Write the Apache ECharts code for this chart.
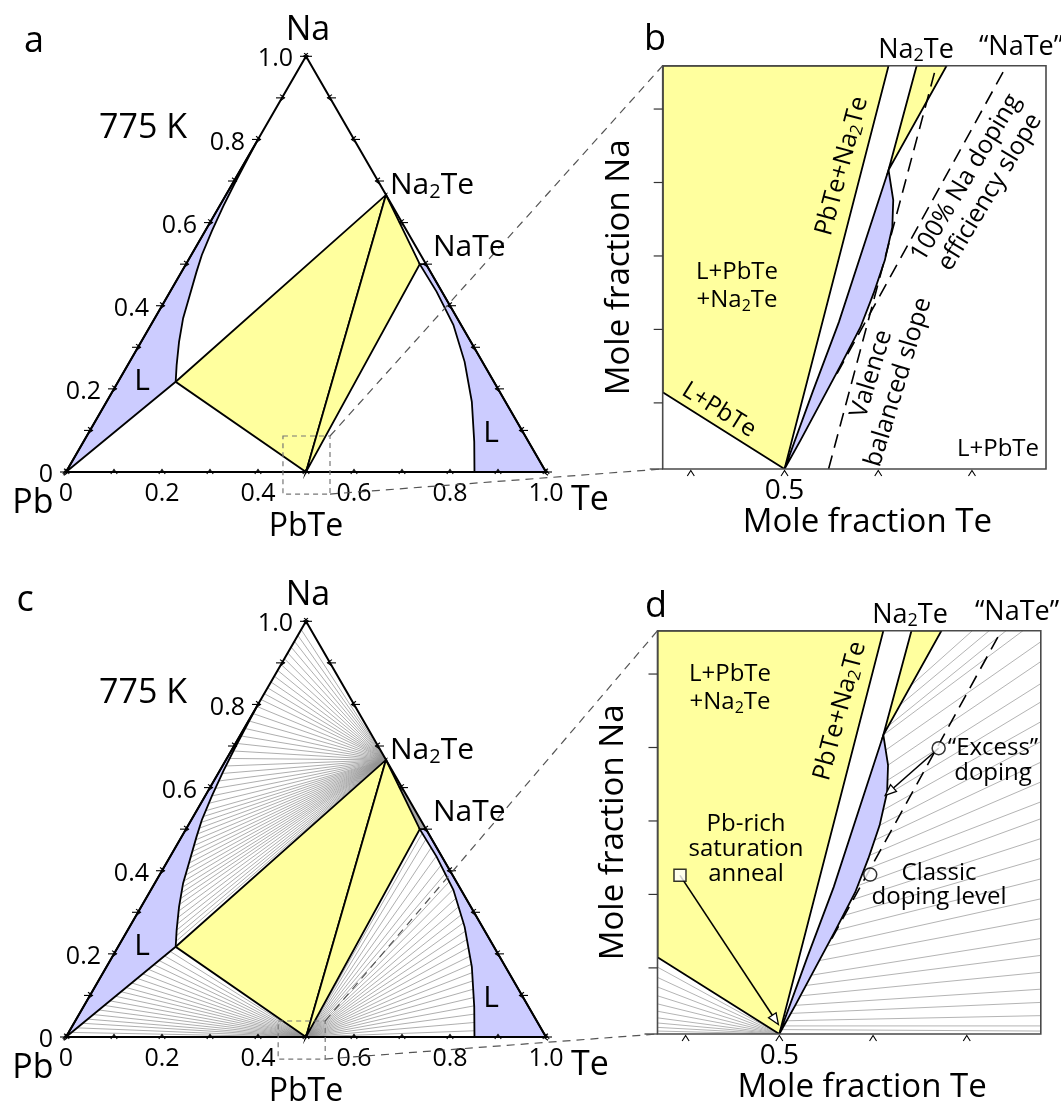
<!DOCTYPE html>
<html>
<head>
<meta charset="utf-8">
<script src="https://cdn.jsdelivr.net/npm/echarts@6/dist/echarts.min.js"></script>
<style>html,body{margin:0;padding:0;background:#fff}#chart{width:1061px;height:1108px}</style>
</head>
<body>
<div id="chart"></div>
<script>
// ================= DATA =================
// ---- ternary panels (a, c): compositions as [x_Te, x_Na] ----
const ternTickValues = [0, 0.1, 0.2, 0.3, 0.4, 0.5, 0.6, 0.7, 0.8, 0.9, 1.0];
const ternLabelValues = [0, 0.2, 0.4, 0.6, 0.8, 1.0];
const PbTe = [0.5, 0];
const Na2Te = [1 / 3, 2 / 3];
const NaTe = [0.5, 0.5];
const L1 = [0.120, 0.217];          // Pb-rich liquid corner
const L2 = [0.487, 0.500];          // Te-rich liquid corner
const leftLiquid = [[0.120, 0.217], [0.102, 0.257], [0.079, 0.313], [0.059, 0.370], [0.045, 0.426],
  [0.031, 0.482], [0.022, 0.522], [0.014, 0.580], [0.008, 0.640], [0.004, 0.700], [0.0015, 0.760], [0, 0.805]];
const rightLiquid = [[0.487, 0.500], [0.555, 0.434], [0.630, 0.354], [0.698, 0.265], [0.761, 0.169],
  [0.814, 0.073], [0.851, 0]];
const tieNa2TeEnds = [[0, 0.980], [0, 0.966], [0, 0.952], [0, 0.938], [0, 0.924], [0, 0.910], [0, 0.896],
  [0, 0.882], [0, 0.868], [0, 0.854], [0, 0.840], [0, 0.826], [0, 0.812],
  [0.0005, 0.795], [0.001, 0.778], [0.002, 0.760], [0.0028, 0.742], [0.0035, 0.724], [0.0045, 0.706],
  [0.0055, 0.688], [0.0068, 0.670], [0.008, 0.652], [0.0095, 0.634], [0.011, 0.616], [0.0125, 0.598],
  [0.014, 0.580], [0.016, 0.562], [0.018, 0.544], [0.020, 0.530], [0.023, 0.516], [0.026, 0.502],
  [0.029, 0.488], [0.033, 0.474], [0.036, 0.460], [0.040, 0.446], [0.043, 0.432], [0.047, 0.418],
  [0.051, 0.404], [0.055, 0.390], [0.059, 0.376], [0.064, 0.362], [0.068, 0.348], [0.073, 0.334],
  [0.078, 0.320], [0.084, 0.304], [0.090, 0.288], [0.096, 0.272], [0.102, 0.257], [0.108, 0.243], [0.114, 0.230]];
const tiePbTeLeftEnds = [[0.114, 0.206], [0.108, 0.195], [0.102, 0.184], [0.096, 0.174], [0.090, 0.163],
  [0.084, 0.152], [0.078, 0.141], [0.072, 0.130], [0.066, 0.119], [0.060, 0.109], [0.054, 0.098],
  [0.048, 0.087], [0.042, 0.076], [0.036, 0.065], [0.030, 0.054], [0.024, 0.043], [0.018, 0.033],
  [0.012, 0.022], [0.006, 0.011]];
const tiePbTeRightEnds = [[0.844, 0.015], [0.834, 0.035], [0.823, 0.055], [0.813, 0.075], [0.802, 0.095],
  [0.791, 0.115], [0.780, 0.135], [0.769, 0.155], [0.757, 0.175], [0.745, 0.195], [0.731, 0.215],
  [0.718, 0.235], [0.705, 0.255], [0.691, 0.275], [0.677, 0.295], [0.662, 0.315], [0.646, 0.335],
  [0.629, 0.355], [0.612, 0.375], [0.594, 0.395], [0.575, 0.415], [0.554, 0.435], [0.533, 0.455],
  [0.512, 0.475], [0.497, 0.490]];
// zoom boxes drawn in the triangles, [X0, Na0, X1, Na1] in the triangle's horizontal/Na frame
const zoomBoxA = [0.452, -0.053, 0.550, 0.0866];
const zoomBoxC = [0.442, -0.053, 0.540, 0.0385];

// ---- zoomed panels (b, d): [x_Te, x_Na] ----
const zoomRangeX = [0.4870, 0.5279];
const zoomRangeY = [0, 0.0549];
const zoomTickX = [0.49, 0.50, 0.51, 0.52];
const zoomLabelX = [0.5];
const zoomTickY = [0, 0.009, 0.019, 0.029, 0.039, 0.049];
const zLeftYellow = [[0.4870, 0.01045], [0.5, 0], [0.5111, 0.0549], [0.4870, 0.0549]];
const zRightYellow = [[0.5141, 0.0549], [0.5173, 0.0549], [0.5111, 0.0407]];
const zBlue = [[0.5111, 0.0407], [0.5116, 0.0366], [0.5115, 0.0329], [0.5107, 0.0284], [0.5095, 0.0239],
  [0.5081, 0.0193], [0.5059, 0.0139], [0.5038, 0.0089], [0.5017, 0.0039], [0.5, 0],
  [0.5030, 0.0105], [0.5058, 0.0200]];
const valenceLine = [[0.5047, 0], [0.5162, 0.0549]];
const dopingLine = [[0.5056, 0.0130], [0.5237, 0.0549]];
const dTieRight = [
  [0.5141, 0.0475, 0.5206, 0.0549], [0.5129, 0.0448, 0.5224, 0.0549], [0.5117, 0.0420, 0.5242, 0.0549],
  [0.5111, 0.0407, 0.5260, 0.0549], [0.5113, 0.0386, 0.5279, 0.0534], [0.5116, 0.0366, 0.5279, 0.0507],
  [0.5115, 0.0345, 0.5279, 0.0477], [0.5114, 0.0325, 0.5279, 0.0452], [0.5111, 0.0305, 0.5279, 0.0425],
  [0.5107, 0.0284, 0.5279, 0.0398], [0.5102, 0.0264, 0.5279, 0.0370], [0.5096, 0.0243, 0.5279, 0.0343],
  [0.5090, 0.0223, 0.5279, 0.0316], [0.5084, 0.0202, 0.5279, 0.0293], [0.5076, 0.0182, 0.5279, 0.0266],
  [0.5068, 0.0161, 0.5279, 0.0239], [0.5060, 0.0141, 0.5279, 0.0211], [0.5052, 0.0120, 0.5279, 0.0184],
  [0.5043, 0.0100, 0.5279, 0.0157], [0.5034, 0.0080, 0.5279, 0.0130], [0.5028, 0.0066, 0.5279, 0.0107],
  [0.5023, 0.0052, 0.5279, 0.0084], [0.5017, 0.0039, 0.5279, 0.0061], [0.5012, 0.0028, 0.5279, 0.0043],
  [0.5008, 0.0018, 0.5279, 0.0025], [0.5005, 0.0011, 0.5279, 0.0011], [0.5003, 0.0006, 0.5279, 0.0004]];
const dTieLeftNa = [0.0091, 0.0077, 0.0064, 0.0052, 0.0041, 0.0031, 0.0022, 0.0015, 0.0009, 0.0004];
const annealFrom = [0.4894, 0.0216];
const annealTo = [0.4999, 0.0013];
const excessPt = [0.5170, 0.0389];
const excessTo = [0.5113, 0.0325];
const classicPt = [0.5097, 0.0217];

// ================= STYLE =================
const FONT = '"Open Sans", "DejaVu Sans", sans-serif';
const INK = '#000';
const YEL = '#ffff9e';
const BLU = '#ccccff';
const TIE_C = '#939393';
const TIE_D = '#b4b4b4';

const tern = q => [q[0] + q[1] / 2, q[1]];
const same = q => q;

function polygonS(g, pts, conv, style, z, clip) {
  return { type: 'custom', xAxisIndex: g, yAxisIndex: g, z: z, silent: true, clip: !!clip,
    data: [conv(pts[0])],
    renderItem: (p, api) => ({ type: 'polygon', shape: { points: pts.map(q => api.coord(conv(q))) }, style: style }) };
}
function polylineS(g, pts, conv, style, z, clip) {
  return { type: 'custom', xAxisIndex: g, yAxisIndex: g, z: z, silent: true, clip: !!clip,
    data: [conv(pts[0])],
    renderItem: (p, api) => ({ type: 'polyline', shape: { points: pts.map(q => api.coord(conv(q))) },
      style: Object.assign({ fill: null }, style) }) };
}
function fanS(g, apex, ends, conv, style, z, clip) {
  return { type: 'custom', xAxisIndex: g, yAxisIndex: g, z: z, silent: true, clip: !!clip,
    data: ends.map(conv),
    renderItem: (p, api) => {
      const a = api.coord(conv(apex)), e = api.coord(conv(ends[p.dataIndex]));
      return { type: 'line', shape: { x1: a[0], y1: a[1], x2: e[0], y2: e[1] }, style: style };
    } };
}
function segS(g, segs, style, z, clip) {
  return { type: 'custom', xAxisIndex: g, yAxisIndex: g, z: z, silent: true, clip: !!clip,
    data: segs.map(s => [s[0], s[1]]),
    renderItem: (p, api) => {
      const s = segs[p.dataIndex];
      const a = api.coord([s[0], s[1]]), e = api.coord([s[2], s[3]]);
      return { type: 'line', shape: { x1: a[0], y1: a[1], x2: e[0], y2: e[1] }, style: style };
    } };
}
function boxS(g, box, style, z) {
  return { type: 'custom', xAxisIndex: g, yAxisIndex: g, z: z, silent: true, clip: false,
    data: [[box[0], box[1]]],
    renderItem: (p, api) => {
      const a = api.coord([box[0], box[3]]), b = api.coord([box[2], box[1]]);
      return { type: 'rect', shape: { x: a[0], y: a[1], width: b[0] - a[0], height: b[1] - a[1] },
        style: Object.assign({ fill: null }, style) };
    } };
}
function chevron(p, d, shaft) {
  const perp = [-d[1], d[0]];
  const tip = [p[0] + d[0] * 2.5, p[1] + d[1] * 2.5];
  const l1 = [p[0] - d[0] * 2 + perp[0] * 3.2, p[1] - d[1] * 2 + perp[1] * 3.2];
  const l2 = [p[0] - d[0] * 2 - perp[0] * 3.2, p[1] - d[1] * 2 - perp[1] * 3.2];
  const out = [{ type: 'polyline', shape: { points: [l1, tip, l2] }, style: { stroke: INK, lineWidth: 1.1, fill: null } }];
  if (shaft) out.push({ type: 'line', shape: { x1: p[0] - d[0] * 6, y1: p[1] - d[1] * 6, x2: tip[0], y2: tip[1] },
    style: { stroke: INK, lineWidth: 1.1 } });
  return out;
}
function ternTicksS(g) {
  return { type: 'custom', xAxisIndex: g, yAxisIndex: g, z: 8, silent: true, clip: false,
    data: ternTickValues.map(v => [v, 0]),
    renderItem: (p, api) => {
      const v = ternTickValues[p.dataIndex];
      const b = api.coord(tern([v, 0])), l = api.coord(tern([0, v])), r = api.coord(tern([1 - v, v]));
      return { type: 'group', children: [].concat(chevron(b, [0, -1], false), chevron(l, [1, 0], true), chevron(r, [-1, 0], true)) };
    } };
}
// Na-fraction labels along the Pb-Na edge, placed through the axes
function ternLabelsS(g) {
  return { type: 'custom', xAxisIndex: g, yAxisIndex: g, z: 9, silent: true, clip: false,
    data: ternLabelValues.map(n => tern([0, n])),
    renderItem: (p, api) => {
      const n = ternLabelValues[p.dataIndex];
      const c = api.coord(tern([0, n]));
      return { type: 'text', x: c[0] - 13, y: c[1] + 3,
        style: { text: n === 0 ? '0' : n.toFixed(1), fontSize: 25, fontFamily: FONT, fill: INK,
          align: 'right', verticalAlign: 'middle', textAlign: 'right', textVerticalAlign: 'middle' } };
    } };
}
function zoomFrameS(g) {
  return boxS(g, [zoomRangeX[0], zoomRangeY[0], zoomRangeX[1], zoomRangeY[1]], { stroke: '#4a4a4a', lineWidth: 1.6 }, 9);
}
function zoomXTicksS(g) {
  return { type: 'custom', xAxisIndex: g, yAxisIndex: g, z: 9, silent: true, clip: false,
    data: zoomTickX.map(v => [v, zoomRangeY[0]]),
    renderItem: (p, api) => {
      const c = api.coord([zoomTickX[p.dataIndex], zoomRangeY[0]]);
      return { type: 'polyline', shape: { points: [[c[0] - 3.5, c[1] + 7], [c[0], c[1] + 1.5], [c[0] + 3.5, c[1] + 7]] },
        style: { stroke: INK, lineWidth: 1.1, fill: null } };
    } };
}
function zoomYTicksS(g) {
  return { type: 'custom', xAxisIndex: g, yAxisIndex: g, z: 9, silent: true, clip: false,
    data: zoomTickY.map(v => [zoomRangeX[0], v]),
    renderItem: (p, api) => {
      const v = zoomTickY[p.dataIndex];
      const c = api.coord([zoomRangeX[0], v]);
      const len = v === 0 ? 13 : 9;
      return { type: 'line', shape: { x1: c[0] - len, y1: c[1], x2: c[0], y2: c[1] }, style: { stroke: '#333', lineWidth: 1.2 } };
    } };
}
function arrowsS(g, arrows, z) {
  return { type: 'custom', xAxisIndex: g, yAxisIndex: g, z: z, silent: true, clip: false,
    data: arrows.map(a => a[0]),
    renderItem: (p, api) => {
      const a = arrows[p.dataIndex];
      const p0 = api.coord(a[0]), p1 = api.coord(a[1]);
      const dx = p1[0] - p0[0], dy = p1[1] - p0[1], L = Math.hypot(dx, dy), ux = dx / L, uy = dy / L;
      const hl = 11, hw = 4.5;
      const base = [p1[0] - ux * hl, p1[1] - uy * hl];
      return { type: 'group', children: [
        { type: 'line', shape: { x1: p0[0], y1: p0[1], x2: base[0], y2: base[1] }, style: { stroke: INK, lineWidth: 1.6 } },
        { type: 'polygon', shape: { points: [p1, [base[0] - uy * hw, base[1] + ux * hw], [base[0] + uy * hw, base[1] - ux * hw]] },
          style: { fill: '#fff', stroke: INK, lineWidth: 1.3 } }
      ] };
    } };
}

// ================= SERIES =================
const LINE = { stroke: INK, lineWidth: 1.8 };
function ternPanel(g, withTies) {
  const s = [];
  if (withTies) {
    const st = { stroke: TIE_C, lineWidth: 0.75 };
    s.push(fanS(g, Na2Te, tieNa2TeEnds, tern, st, 1));
    s.push(fanS(g, PbTe, tiePbTeLeftEnds, tern, st, 1));
    s.push(fanS(g, PbTe, tiePbTeRightEnds, tern, st, 1));
    s.push(polygonS(g, [Na2Te, L2, NaTe], tern, { fill: '#a8a8a8', stroke: null }, 2));
  }
  s.push(polygonS(g, [L1, Na2Te, PbTe], tern, Object.assign({ fill: YEL }, LINE), 3));
  s.push(polygonS(g, [PbTe, Na2Te, L2], tern, Object.assign({ fill: YEL }, LINE), 3));
  s.push(polygonS(g, [[0, 0]].concat(leftLiquid), tern, Object.assign({ fill: BLU }, LINE), 3));
  s.push(polygonS(g, rightLiquid.slice().reverse().concat([L2, NaTe, [1, 0]]).reverse(), tern, Object.assign({ fill: BLU }, LINE), 3));
  s.push(polygonS(g, [[0, 0], [1, 0], [0, 1]], tern, { fill: null, stroke: INK, lineWidth: 2 }, 5));
  s.push(boxS(g, g === 0 ? zoomBoxA : zoomBoxC, { stroke: '#777', lineWidth: 1.2, lineDash: [5, 4] }, 6));
  s.push(ternTicksS(g));
  s.push(ternLabelsS(g));
  return s;
}
function zoomPanel(g, isD) {
  const s = [];
  if (isD) {
    s.push(segS(g, dTieRight, { stroke: TIE_D, lineWidth: 1 }, 1, true));
    s.push(fanS(g, PbTe, dTieLeftNa.map(y => [zoomRangeX[0], y]), same, { stroke: TIE_D, lineWidth: 1 }, 1, true));
  }
  s.push(polygonS(g, zLeftYellow, same, Object.assign({ fill: YEL }, LINE), 3, true));
  s.push(polygonS(g, zRightYellow, same, Object.assign({ fill: YEL }, LINE), 3, true));
  s.push(polygonS(g, zBlue, same, Object.assign({ fill: BLU }, LINE), 3, true));
  const dash = { stroke: INK, lineWidth: 1.6, lineDash: [14, 8] };
  if (!isD) s.push(polylineS(g, valenceLine, same, dash, 5, true));
  s.push(polylineS(g, dopingLine, same, dash, 5, true));
  s.push(zoomFrameS(g));
  s.push(zoomXTicksS(g));
  s.push(zoomYTicksS(g));
  if (isD) {
    s.push(arrowsS(g, [[annealFrom, annealTo], [excessPt, excessTo]], 10));
    s.push({ type: 'scatter', xAxisIndex: g, yAxisIndex: g, z: 11, silent: true, symbol: 'rect', symbolSize: 12,
      itemStyle: { color: '#fff', borderColor: INK, borderWidth: 1.5 }, data: [annealFrom] });
    s.push({ type: 'scatter', xAxisIndex: g, yAxisIndex: g, z: 11, silent: true, symbol: 'circle', symbolSize: 13,
      itemStyle: { color: '#fff', borderColor: INK, borderWidth: 1.5 }, data: [excessPt, classicPt] });
  }
  return s;
}

const grids = [
  { left: 66, top: 56.3, width: 480, height: 415.7 },
  { left: 662.7, top: 65.7, width: 383.3, height: 403.3 },
  { left: 66, top: 621.3, width: 480, height: 415.7 },
  { left: 657.5, top: 630.7, width: 383.3, height: 403.3 }
];
function ternX(g) {
  return { gridIndex: g, type: 'value', min: 0, max: 1, splitLine: { show: false }, axisLine: { show: false },
    axisTick: { show: false },
    axisLabel: { show: true, customValues: ternLabelValues, margin: 9, fontSize: 25, fontFamily: FONT, color: INK,
      formatter: v => (v === 0 ? '0' : v.toFixed(1)) } };
}
function ternY(g) { return { gridIndex: g, type: 'value', min: 0, max: 1, show: false }; }
function zoomX(g) {
  return { gridIndex: g, type: 'value', min: zoomRangeX[0], max: zoomRangeX[1], splitLine: { show: false },
    axisLine: { show: false }, axisTick: { show: false },
    axisLabel: { show: true, customValues: zoomLabelX, margin: 8, fontSize: 28, fontFamily: FONT, color: INK,
      formatter: v => v.toFixed(1) },
    name: 'Mole fraction Te', nameLocation: 'middle', nameGap: 37,
    nameTextStyle: { fontSize: 33, fontFamily: FONT, color: INK, padding: [0, 0, 0, 26] } };
}
function zoomY(g) {
  return { gridIndex: g, type: 'value', min: zoomRangeY[0], max: zoomRangeY[1], splitLine: { show: false },
    axisLine: { show: false }, axisTick: { show: false }, axisLabel: { show: false },
    name: 'Mole fraction Na', nameLocation: 'middle', nameGap: 27,
    nameTextStyle: { fontSize: 33, fontFamily: FONT, color: INK } };
}

// ================= TEXT =================
function T(x, y, text, size, extra) {
  const el = { type: 'text', x: x, y: y, z: 100, silent: true,
    style: { text: text, fontSize: size, fontFamily: FONT, fill: INK, align: 'center', verticalAlign: 'middle',
      textAlign: 'center', textVerticalAlign: 'middle' } };
  if (extra) {
    if (extra.rotation !== undefined) el.rotation = extra.rotation * Math.PI / 180;
    if (extra.align) { el.style.align = extra.align; el.style.textAlign = extra.align; }
    if (extra.lineHeight) el.style.lineHeight = extra.lineHeight;
    if (extra.rich) el.style.rich = extra.rich;
  }
  return el;
}
function sub(size, lh) {
  return { n: { fontSize: size, fontFamily: FONT, fill: INK, lineHeight: lh },
    s: { fontSize: Math.round(size * 0.66), fontFamily: FONT, fill: INK, lineHeight: Math.round(size * 0.4), verticalAlign: 'bottom' } };
}
const NA2TE = '{n|Na}{s|2}{n|Te}';
function ternTexts(dy, letter, lx, ly) {
  return [
    T(lx, ly, letter, 36),
    T(308, 30 + dy, 'Na', 34),
    T(143, 128 + dy, '775 K', 34),
    T(390, 185 + dy, NA2TE, 30, { align: 'left', rich: sub(30, 34) }),
    T(433, 247 + dy, 'NaTe', 30, { align: 'left' }),
    T(142, 381 + dy, 'L', 30),
    T(491, 433 + dy, 'L', 30),
    T(33, 503 + dy, 'Pb', 34),
    T(590, 500 + dy, 'Te', 34),
    T(306, 527 + dy, 'PbTe', 32)
  ];
}
const texts = [].concat(
  ternTexts(0, 'a', 34, 42),
  ternTexts(565, 'c', 25, 601),
  [
    T(655, 40, 'b', 36),
    T(916, 50, NA2TE, 27, { rich: sub(27, 30) }),
    T(1021, 47, '\u201cNaTe\u201d', 27),
    T(737, 286, 'L+PbTe\n+' + NA2TE, 24, { lineHeight: 28, rich: sub(24, 28) }),
    T(719, 410, 'L+PbTe', 24, { rotation: -32 }),
    T(842, 166, 'PbTe+' + NA2TE, 25, { rotation: 75, rich: sub(25, 28) }),
    T(885, 378, 'Valence\nbalanced slope', 25, { rotation: 73, lineHeight: 28 }),
    T(978, 185, '100% Na doping\nefficiency slope', 25, { rotation: 59, lineHeight: 28 }),
    T(998, 449, 'L+PbTe', 24),

    T(656, 607, 'd', 36),
    T(910, 615, NA2TE, 27, { rich: sub(27, 30) }),
    T(1017, 612, '\u201cNaTe\u201d', 27),
    T(730, 688, 'L+PbTe\n+' + NA2TE, 24, { lineHeight: 28, rich: sub(24, 28) }),
    T(840, 711, 'PbTe+' + NA2TE, 25, { rotation: 75, rich: sub(25, 28) }),
    T(746, 849, 'Pb-rich\nsaturation\nanneal', 24, { lineHeight: 25 }),
    T(993, 761, '\u201cExcess\u201d\ndoping', 24, { lineHeight: 25 }),
    T(939, 885, 'Classic\ndoping level', 24, { lineHeight: 24 })
  ]
);

const chart = echarts.init(document.getElementById('chart'), null, { renderer: 'canvas', width: 1061, height: 1108 });
chart.setOption({
  animation: false,
  backgroundColor: '#fff',
  grid: grids,
  xAxis: [ternX(0), zoomX(1), ternX(2), zoomX(3)],
  yAxis: [ternY(0), zoomY(1), ternY(2), zoomY(3)],
  series: [].concat(ternPanel(0, false), zoomPanel(1, false), ternPanel(2, true), zoomPanel(3, true)),
  graphic: texts
});

// callout lines from the zoom boxes to the zoomed panels
function px(g, v) { return chart.convertToPixel({ gridIndex: g }, v); }
function callouts(gT, box, gZ) {
  const tr = px(gT, [box[2], box[3]]), br = px(gT, [box[2], box[1]]);
  const tl = px(gZ, [zoomRangeX[0], zoomRangeY[1]]), bl = px(gZ, [zoomRangeX[0], zoomRangeY[0]]);
  const st = { stroke: '#555', lineWidth: 1.2, lineDash: [8, 6] };
  return [
    { type: 'line', z: 50, silent: true, shape: { x1: tr[0], y1: tr[1], x2: tl[0], y2: tl[1] }, style: st },
    { type: 'line', z: 50, silent: true, shape: { x1: br[0], y1: br[1], x2: bl[0], y2: bl[1] }, style: st }
  ];
}
chart.setOption({ graphic: texts.concat(callouts(0, zoomBoxA, 1), callouts(2, zoomBoxC, 3)) });
</script>
</body>
</html>
